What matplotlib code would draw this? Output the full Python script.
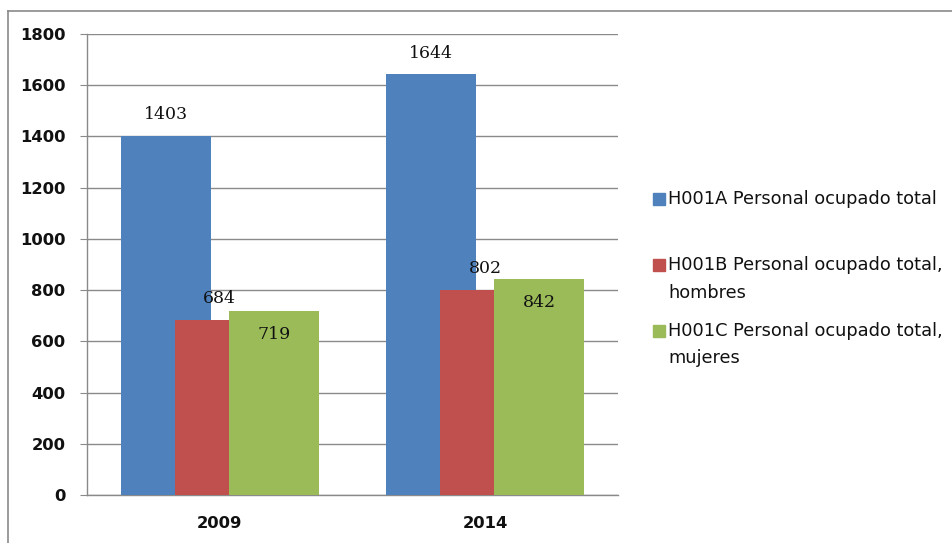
import matplotlib
matplotlib.use('Agg')
import matplotlib.pyplot as plt
from matplotlib.patches import Rectangle
from matplotlib.lines import Line2D
import numpy as np

# Data
years = ['2009', '2014']
series_names = ['H001A Personal ocupado total',
                'H001B Personal ocupado total,\nhombres',
                'H001C Personal ocupado total,\nmujeres']
total = [1403, 1644]
hombres = [684, 802]
mujeres = [719, 842]
y_ticks = [0, 200, 400, 600, 800, 1000, 1200, 1400, 1600, 1800]

colors = ['#4F81BD', '#C0504D', '#9BBB59']
values = [total, hombres, mujeres]

W, H = 953, 543
fig = plt.figure(figsize=(W / 100, H / 100), dpi=100)
fig.patch.set_facecolor('white')

# plot area in pixels: left 87, right 618, top 34, bottom 495
ax = fig.add_axes([87 / W, 1 - 495 / H, 531 / W, 461 / H])

x = np.arange(len(years))
offsets = [-0.2034, 0.0, 0.2034]
bar_w = 0.339

for i, (vals, col) in enumerate(zip(values, colors)):
    bars = ax.bar(x + offsets[i], vals, width=bar_w, color=col, zorder=3 + i)
    for b, v in zip(bars, vals):
        cx = b.get_x() + b.get_width() / 2
        # green labels sit inside the bar end, others just above it
        dy = -17 if i == 2 else 15
        ax.annotate(str(v), (cx, v), xytext=(0, dy), textcoords='offset points',
                    ha='center', va='center', fontsize=12.5,
                    family='DejaVu Serif', color='#111111', zorder=10)

ax.set_xlim(-0.5, 1.5)
ax.set_ylim(0, 1800)
ax.set_yticks(y_ticks)
ax.set_xticks(x)
ax.set_xticklabels(years)
ax.yaxis.grid(True, color='#8a8a8a', linewidth=1.0)
ax.set_axisbelow(True)

for s in ['top', 'right']:
    ax.spines[s].set_visible(False)
for s in ['left', 'bottom']:
    ax.spines[s].set_color('#8a8a8a')
    ax.spines[s].set_linewidth(1.0)

ax.tick_params(axis='y', length=5, color='#8a8a8a', pad=10.5,
               labelsize=11.8, labelcolor='#111111')
ax.tick_params(axis='x', length=0, pad=15, labelsize=11.8, labelcolor='#111111')
for lbl in ax.get_yticklabels() + ax.get_xticklabels():
    lbl.set_fontweight('bold')

# Legend, drawn by hand so the marker sits on the first line of wrapped names
legend_rows = [(199, None), (265, 293), (331, 358)]
for name, col, (y1, y2) in zip(series_names, colors, legend_rows):
    fig.add_artist(Rectangle((653 / W, 1 - (y1 + 6) / H), 12 / W, 12 / H,
                             transform=fig.transFigure, color=col))
    lines = name.split('\n')
    for line, yy in zip(lines, [y1, y2]):
        fig.text(668 / W, 1 - yy / H, line, ha='left', va='center',
                 fontsize=12.8, color='#111111')

# outer chart border
fig.add_artist(Line2D([8 / W, 1], [1 - 11 / H, 1 - 11 / H],
                      transform=fig.transFigure, color='#8a8a8a', linewidth=1.2))
fig.add_artist(Line2D([8 / W, 8 / W], [1 - 11 / H, 0],
                      transform=fig.transFigure, color='#8a8a8a', linewidth=1.2))

fig.savefig('out.png', dpi=100)
